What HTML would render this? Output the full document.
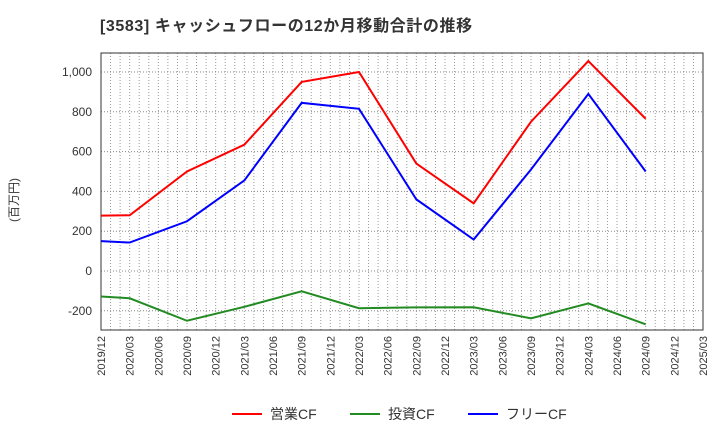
<!DOCTYPE html>
<html><head><meta charset="utf-8"><style>
body{margin:0;background:#fff;font-family:"Liberation Sans","Noto Sans CJK JP",sans-serif;}
text{font-family:"Liberation Sans","Noto Sans CJK JP",sans-serif;}
</style></head><body>
<svg id="c" width="720" height="440" xmlns="http://www.w3.org/2000/svg">
<text x="100" y="31" font-size="16" font-weight="bold" letter-spacing="0.6" fill="#333">[3583]  キャッシュフローの12か月移動合計の推移</text>
<text transform="translate(18,200) rotate(-90)" text-anchor="middle" font-size="12" fill="#333">(百万円)</text>
</svg>
<script>
const xLabels=["2019/12","2020/03","2020/06","2020/09","2020/12","2021/03","2021/06","2021/09","2021/12","2022/03","2022/06","2022/09","2022/12","2023/03","2023/06","2023/09","2023/12","2024/03","2024/06","2024/09","2024/12","2025/03"];
const yTicks=[-200,0,200,400,600,800,1000];
const pointIdx=[0,1,3,5,7,9,11,13,15,17,19];
const opCF=[278,280,500,635,950,1000,540,340,750,1055,765];
const invCF=[-128,-137,-250,-180,-102,-187,-183,-182,-238,-163,-268];
const freeCF=[150,143,250,455,845,815,360,158,510,890,500];
const L=101,R=703,T=53,B=330;
const ns="http://www.w3.org/2000/svg",svg=document.getElementById('c');
const xs=q=>L+q*(R-L)/(xLabels.length-1);
const ys=v=>271-v*(199/1000);
function mk(t,a,p){const e=document.createElementNS(ns,t);for(const k in a)e.setAttribute(k,a[k]);(p||svg).appendChild(e);return e;}
const g=mk('g',{});


for(let m=1;m<(xLabels.length-1)*3;m++){const x=L+m*(R-L)/((xLabels.length-1)*3);mk('line',{x1:x,x2:x,y1:T,y2:B,stroke:'#999','stroke-dasharray':'1,2','stroke-width':1},g);}
yTicks.forEach(v=>{mk('line',{x1:L,x2:R,y1:ys(v),y2:ys(v),stroke:'#888','stroke-dasharray':'1,2'},g);
const t=mk('text',{x:L-9,y:ys(v)+4,'text-anchor':'end','font-size':12,fill:'#333'});t.textContent=v.toLocaleString('en-US');

});
xLabels.forEach((s,i)=>{const x=xs(i);const t=mk('text',{transform:`translate(${x+4},${B+6}) rotate(-90)`,'text-anchor':'end','font-size':11,fill:'#333'});t.textContent=s;

});
const fr=mk('rect',{x:L,y:T,width:R-L,height:B-T,fill:'none',stroke:'#333'});


function line(d,c,n){const p=mk('polyline',{points:d.map((v,i)=>xs(pointIdx[i])+','+ys(v)).join(' '),fill:'none',stroke:c,'stroke-width':2});

}
line(opCF,'#f00','operating-cf-line');line(invCF,'#228b22','investing-cf-line');line(freeCF,'#00f','free-cf-line');
[['営業CF','#f00',232,'legend-operating-cf'],['投資CF','#228b22',350,'legend-investing-cf'],['フリーCF','#00f',468,'legend-free-cf']].forEach(([s,c,x,n])=>{
const lg=mk('g',{});


mk('line',{x1:x,x2:x+30,y1:414,y2:414,stroke:c,'stroke-width':2},lg);
const t=mk('text',{x:x+38,y:419,'font-size':14,fill:'#333'},lg);t.textContent=s;});
</script>
</body></html>
